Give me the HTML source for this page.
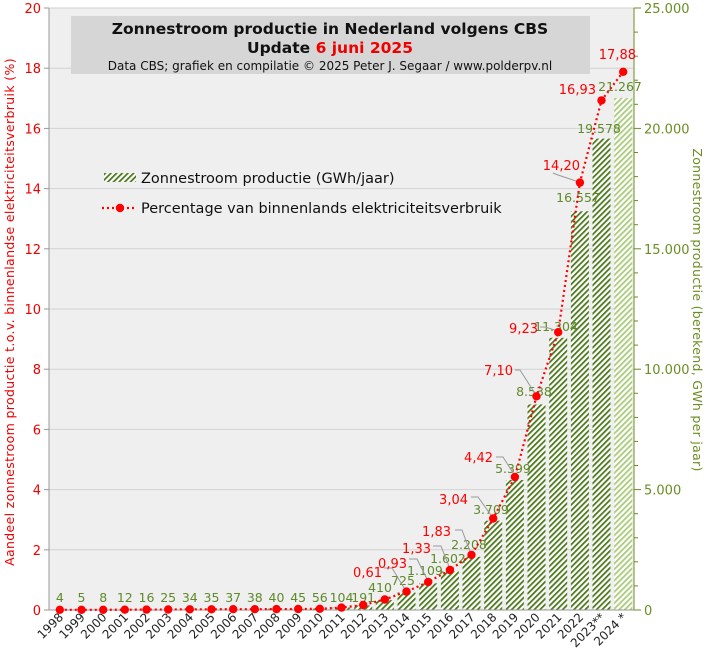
<!DOCTYPE html>
<html><head><meta charset="utf-8"><style>
body{margin:0;background:#fff}
svg{display:block;font-family:"DejaVu Sans","Liberation Sans",sans-serif}
</style></head><body>
<svg width="708" height="668" viewBox="0 0 708 668">
<defs>
<pattern id="h" patternUnits="userSpaceOnUse" width="4" height="4" patternTransform="rotate(45)">
<rect width="4" height="4" fill="#fff"/><rect width="1.8" height="4" fill="#4d7a1e"/></pattern>
<pattern id="h2" patternUnits="userSpaceOnUse" width="4" height="4" patternTransform="rotate(45)">
<rect width="4" height="4" fill="#fff"/><rect width="1.8" height="4" fill="#a9cc7a"/></pattern>
</defs>
<rect x="49" y="8" width="585" height="602" fill="#efefef"/>
<g stroke="#d2d2d2" stroke-width="1">
<line x1="49" x2="634" y1="549.8" y2="549.8"/><line x1="49" x2="634" y1="489.6" y2="489.6"/>
<line x1="49" x2="634" y1="429.4" y2="429.4"/><line x1="49" x2="634" y1="369.2" y2="369.2"/>
<line x1="49" x2="634" y1="309" y2="309"/><line x1="49" x2="634" y1="248.8" y2="248.8"/>
<line x1="49" x2="634" y1="188.6" y2="188.6"/><line x1="49" x2="634" y1="128.4" y2="128.4"/>
<line x1="49" x2="634" y1="68.2" y2="68.2"/><line x1="49" x2="634" y1="8" y2="8"/>
</g>
<g fill="url(#h)">
<rect x="267.5" y="608.7" width="18" height="1.3"/>
<rect x="289.2" y="608.9" width="18" height="1.1"/>
<rect x="310.8" y="608.6" width="18" height="1.4"/>
<rect x="332.5" y="607.5" width="18" height="2.5"/>
<rect x="354.2" y="605.4" width="18" height="4.6"/>
<rect x="375.8" y="600.1" width="18" height="9.9"/>
<rect x="397.5" y="592.5" width="18" height="17.5"/>
<rect x="419.2" y="583.3" width="18" height="26.7"/>
<rect x="440.9" y="571.4" width="18" height="38.6"/>
<rect x="462.5" y="556.8" width="18" height="53.2"/>
<rect x="484.2" y="520.7" width="18" height="89.3"/>
<rect x="505.9" y="480" width="18" height="130"/>
<rect x="527.5" y="404.4" width="18" height="205.6"/>
<rect x="549.2" y="337.8" width="18" height="272.2"/>
<rect x="570.9" y="211.3" width="18" height="398.7"/>
<rect x="592.5" y="138.6" width="18" height="471.4"/>
</g>
<rect x="614.2" y="97.9" width="18" height="512.1" fill="url(#h2)"/>
<line x1="49" y1="8" x2="49" y2="610" stroke="#999"/>
<line x1="49" y1="610" x2="634" y2="610" stroke="#999"/>
<line x1="634" y1="8" x2="634" y2="610" stroke="#6b8e23"/>
<g stroke="#999"><line x1="44" x2="49" y1="610" y2="610"/><line x1="44" x2="49" y1="549.8" y2="549.8"/><line x1="44" x2="49" y1="489.6" y2="489.6"/><line x1="44" x2="49" y1="429.4" y2="429.4"/><line x1="44" x2="49" y1="369.2" y2="369.2"/><line x1="44" x2="49" y1="309" y2="309"/><line x1="44" x2="49" y1="248.8" y2="248.8"/><line x1="44" x2="49" y1="188.6" y2="188.6"/><line x1="44" x2="49" y1="128.4" y2="128.4"/><line x1="44" x2="49" y1="68.2" y2="68.2"/><line x1="44" x2="49" y1="8" y2="8"/></g>
<g stroke="#6b8e23">
<line x1="634" x2="641" y1="610" y2="610"/><line x1="634" x2="641" y1="489.6" y2="489.6"/><line x1="634" x2="641" y1="369.2" y2="369.2"/><line x1="634" x2="641" y1="248.8" y2="248.8"/><line x1="634" x2="641" y1="128.4" y2="128.4"/><line x1="634" x2="641" y1="8" y2="8"/>
<line x1="634" x2="638" y1="585.9" y2="585.9"/><line x1="634" x2="638" y1="561.8" y2="561.8"/><line x1="634" x2="638" y1="537.8" y2="537.8"/><line x1="634" x2="638" y1="513.7" y2="513.7"/>
<line x1="634" x2="638" y1="465.5" y2="465.5"/><line x1="634" x2="638" y1="441.4" y2="441.4"/><line x1="634" x2="638" y1="417.4" y2="417.4"/><line x1="634" x2="638" y1="393.3" y2="393.3"/>
<line x1="634" x2="638" y1="345.1" y2="345.1"/><line x1="634" x2="638" y1="321" y2="321"/><line x1="634" x2="638" y1="297" y2="297"/><line x1="634" x2="638" y1="272.9" y2="272.9"/>
<line x1="634" x2="638" y1="224.7" y2="224.7"/><line x1="634" x2="638" y1="200.6" y2="200.6"/><line x1="634" x2="638" y1="176.6" y2="176.6"/><line x1="634" x2="638" y1="152.5" y2="152.5"/>
<line x1="634" x2="638" y1="104.3" y2="104.3"/><line x1="634" x2="638" y1="80.2" y2="80.2"/><line x1="634" x2="638" y1="56.2" y2="56.2"/><line x1="634" x2="638" y1="32.1" y2="32.1"/>
</g>
<g font-size="13" fill="#e00" text-anchor="end">
<text x="41" y="615">0</text><text x="41" y="554.8">2</text><text x="41" y="494.6">4</text><text x="41" y="434.4">6</text><text x="41" y="374.2">8</text><text x="41" y="314">10</text><text x="41" y="253.8">12</text><text x="41" y="193.6">14</text><text x="41" y="133.4">16</text><text x="41" y="73.2">18</text><text x="41" y="13">20</text>
</g>
<g font-size="13" fill="#6b8e23">
<text x="644" y="615">0</text><text x="644" y="494.6">5.000</text><text x="644" y="374.2">10.000</text><text x="644" y="253.8">15.000</text><text x="644" y="133.4">20.000</text><text x="644" y="13">25.000</text>
</g>
<text transform="translate(14,312) rotate(-90)" text-anchor="middle" font-size="12.5" letter-spacing="0.35" fill="#e00">Aandeel zonnestroom productie t.o.v. binnenlandse elektriciteitsverbruik (%)</text>
<text transform="translate(693,310) rotate(90)" text-anchor="middle" font-size="12.5" letter-spacing="0.3" fill="#6b8e23">Zonnestroom productie (berekend, GWh per jaar)</text>
<g font-size="12" fill="#222" text-anchor="end">
<text transform="translate(64,618) rotate(-45)">1998</text><text transform="translate(85.7,618) rotate(-45)">1999</text><text transform="translate(107.4,618) rotate(-45)">2000</text><text transform="translate(129,618) rotate(-45)">2001</text><text transform="translate(150.7,618) rotate(-45)">2002</text><text transform="translate(172.4,618) rotate(-45)">2003</text><text transform="translate(194,618) rotate(-45)">2004</text><text transform="translate(215.7,618) rotate(-45)">2005</text><text transform="translate(237.4,618) rotate(-45)">2006</text><text transform="translate(259,618) rotate(-45)">2007</text><text transform="translate(280.7,618) rotate(-45)">2008</text><text transform="translate(302.4,618) rotate(-45)">2009</text><text transform="translate(324,618) rotate(-45)">2010</text><text transform="translate(345.7,618) rotate(-45)">2011</text><text transform="translate(367.4,618) rotate(-45)">2012</text><text transform="translate(389,618) rotate(-45)">2013</text><text transform="translate(410.7,618) rotate(-45)">2014</text><text transform="translate(432.4,618) rotate(-45)">2015</text><text transform="translate(454.1,618) rotate(-45)">2016</text><text transform="translate(475.7,618) rotate(-45)">2017</text><text transform="translate(497.4,618) rotate(-45)">2018</text><text transform="translate(519.1,618) rotate(-45)">2019</text><text transform="translate(540.7,618) rotate(-45)">2020</text><text transform="translate(562.4,618) rotate(-45)">2021</text><text transform="translate(584.1,618) rotate(-45)">2022</text><text transform="translate(605.7,618) rotate(-45)">2023**</text><text transform="translate(627.4,618) rotate(-45)">2024 *</text>
</g>
<g font-size="12.5" fill="#5f8a2a" text-anchor="middle">
<text x="59.8" y="602">4</text><text x="81.5" y="602">5</text><text x="103.2" y="602">8</text><text x="124.8" y="602">12</text><text x="146.5" y="602">16</text><text x="168.2" y="602">25</text><text x="189.8" y="602">34</text><text x="211.5" y="602">35</text><text x="233.2" y="602">37</text><text x="254.8" y="602">38</text><text x="276.5" y="602">40</text><text x="298.2" y="602">45</text><text x="319.8" y="602">56</text><text x="341.5" y="602">104</text><text x="363.2" y="602">191</text>
<text x="380" y="592">410</text><text x="403" y="585">725</text><text x="425" y="575">1.109</text><text x="448" y="563">1.602</text><text x="469" y="549">2.208</text><text x="491" y="514">3.709</text><text x="513" y="473">5.399</text><text x="534" y="396">8.538</text><text x="556" y="331">11.304</text><text x="578" y="202">16.557</text><text x="599" y="133">19.578</text><text x="620" y="91">21.267</text>
</g>
<g stroke="#999" fill="none" stroke-width="1">
<polyline points="384,568 392,568 406,591"/><polyline points="409,559 417,559 428,581"/><polyline points="433,546 441,546 450,569"/><polyline points="455,530 462,530 471,554"/><polyline points="471,497 478,497 493,518"/><polyline points="496,457 503,457 515,476"/><polyline points="515,370 520,370 536,395"/><polyline points="540,327 545,327 558,331"/><polyline points="553,173 558,175 579,182"/>
</g>
<polyline fill="none" stroke="#f00" stroke-width="2.2" stroke-dasharray="2 3" points="59.8,609.8 81.5,609.8 103.2,609.8 124.8,609.7 146.5,609.6 168.2,609.5 189.8,609.3 211.5,609.3 233.2,609.2 254.8,609.2 276.5,609.1 298.2,609 319.8,608.8 341.5,607.6 363.2,605 384.8,599.5 406.5,591.6 428.2,582 449.9,570 471.5,554.9 493.2,518.5 514.9,477 536.5,396.3 558.2,332.2 579.9,182.6 601.5,100.4 623.2,71.8"/>
<g fill="#f00">
<circle cx="59.8" cy="609.8" r="4.2"/><circle cx="81.5" cy="609.8" r="4.2"/><circle cx="103.2" cy="609.8" r="4.2"/><circle cx="124.8" cy="609.7" r="4.2"/><circle cx="146.5" cy="609.6" r="4.2"/><circle cx="168.2" cy="609.5" r="4.2"/><circle cx="189.8" cy="609.3" r="4.2"/><circle cx="211.5" cy="609.3" r="4.2"/><circle cx="233.2" cy="609.2" r="4.2"/><circle cx="254.8" cy="609.2" r="4.2"/><circle cx="276.5" cy="609.1" r="4.2"/><circle cx="298.2" cy="609" r="4.2"/><circle cx="319.8" cy="608.8" r="4.2"/><circle cx="341.5" cy="607.6" r="4.2"/><circle cx="363.2" cy="605" r="4.2"/><circle cx="384.8" cy="599.5" r="4.2"/><circle cx="406.5" cy="591.6" r="4.2"/><circle cx="428.2" cy="582" r="4.2"/><circle cx="449.9" cy="570" r="4.2"/><circle cx="471.5" cy="554.9" r="4.2"/><circle cx="493.2" cy="518.5" r="4.2"/><circle cx="514.9" cy="477" r="4.2"/><circle cx="536.5" cy="396.3" r="4.2"/><circle cx="558.2" cy="332.2" r="4.2"/><circle cx="579.9" cy="182.6" r="4.2"/><circle cx="601.5" cy="100.4" r="4.2"/><circle cx="623.2" cy="71.8" r="4.2"/>
</g>
<g font-size="13" fill="#f00" text-anchor="end">
<text x="382" y="577">0,61</text><text x="407" y="568">0,93</text><text x="431" y="553">1,33</text><text x="451" y="536">1,83</text><text x="468" y="504">3,04</text><text x="493" y="462">4,42</text><text x="513" y="375">7,10</text><text x="538" y="333">9,23</text><text x="580" y="170">14,20</text><text x="596" y="94">16,93</text><text x="636" y="59">17,88</text>
</g>
<rect x="71" y="16" width="519" height="58" fill="#d6d6d6"/>
<text x="330" y="34" text-anchor="middle" font-size="15.5" font-weight="bold" fill="#111">Zonnestroom productie in Nederland volgens CBS</text>
<text x="330" y="53" text-anchor="middle" font-size="15.5" font-weight="bold" fill="#111">Update <tspan fill="#e00">6 juni 2025</tspan></text>
<text x="330" y="70" text-anchor="middle" font-size="12" fill="#111">Data CBS;  grafiek en compilatie  © 2025 Peter J. Segaar / www.polderpv.nl</text>
<rect x="104" y="173" width="32" height="9" fill="url(#h)"/>
<text x="141" y="183" font-size="14.5" fill="#111">Zonnestroom productie (GWh/jaar)</text>
<line x1="102" y1="208" x2="136" y2="208" stroke="#f00" stroke-width="2.2" stroke-dasharray="2 3"/>
<circle cx="120" cy="208" r="4.2" fill="#f00"/>
<text x="141" y="213" font-size="14.5" fill="#111">Percentage van binnenlands elektriciteitsverbruik</text>
</svg>
</body></html>
